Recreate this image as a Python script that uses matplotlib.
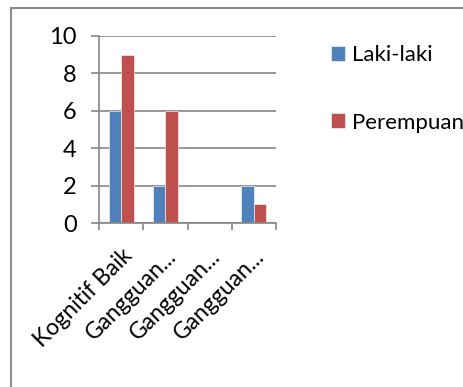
import matplotlib
matplotlib.use("Agg")
import matplotlib.pyplot as plt
import matplotlib.transforms as mtransforms
from matplotlib.patches import Rectangle
import numpy as np

categories = ["Kognitif Baik", "Gangguan...", "Gangguan...", "Gangguan..."]
laki_laki = [6, 2, 0, 2]
perempuan = [9, 6, 0, 1]
series_names = ["Laki-laki", "Perempuan"]

BLUE = "#4F81BD"
RED = "#C0504D"
GRID = "#868686"
FONT = ["Lato", "DejaVu Sans"]

plt.rcParams["font.family"] = FONT

fig = plt.figure(figsize=(4.63, 3.87), dpi=100)

# outer chart frame, running off the right and bottom edges
fig.patches.append(Rectangle((11 / 463, -0.1), 1.2, 1 - 8 / 387 + 0.1,
                             transform=fig.transFigure, fill=False,
                             edgecolor="#8c8c8c", linewidth=1.5))

ax = fig.add_axes([99 / 463, 1 - 223 / 387, 177 / 463, 187 / 387])

x = np.arange(len(categories))
w = 0.285
b1 = ax.bar(x - w / 2, laki_laki, w, color=BLUE, edgecolor="white", linewidth=0.4)
b2 = ax.bar(x + w / 2, perempuan, w, color=RED, edgecolor="white", linewidth=0.4)

ax.set_xlim(-0.5, len(categories) - 0.5)
ax.set_ylim(0, 10)
ax.set_yticks(range(0, 11, 2))
ax.yaxis.grid(True, color=GRID, linewidth=1.2)
ax.set_axisbelow(True)

for s in ["top", "right"]:
    ax.spines[s].set_visible(False)
for s in ["left", "bottom"]:
    ax.spines[s].set_color(GRID)
    ax.spines[s].set_linewidth(1.2)

ax.tick_params(axis="y", length=6, width=1.2, color=GRID, pad=10, labelsize=17)

# category boundaries carry the tick marks, labels sit at the centres
ax.set_xticks(np.arange(-0.5, len(categories)), minor=True)
ax.tick_params(axis="x", which="minor", length=5, width=1.2, color=GRID, direction="out")
ax.set_xticks(x)
ax.set_xticklabels(categories, rotation=45, ha="right", va="top",
                   rotation_mode="anchor", fontsize=16.5)
ax.tick_params(axis="x", which="major", length=0, pad=16)
offset = mtransforms.ScaledTranslation(0, 0, fig.dpi_scale_trans)
for lbl in ax.get_xticklabels():
    lbl.set_transform(lbl.get_transform() + offset)

leg = fig.legend([b1, b2], series_names, loc="upper left",
                 bbox_to_anchor=(322 / 463, 1 - 36 / 387), frameon=False,
                 fontsize=16, handlelength=0.65, handleheight=0.65,
                 handletextpad=0.3, labelspacing=2.15, borderaxespad=0)

fig.savefig("out.png", dpi=100)
